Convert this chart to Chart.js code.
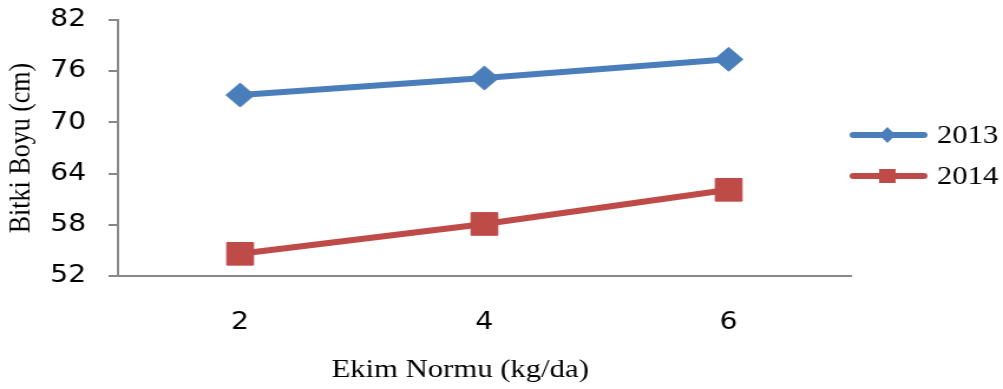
<!DOCTYPE html>
<html>
<head>
<meta charset="utf-8">
<script src="https://cdn.jsdelivr.net/npm/chart.js@4/dist/chart.umd.min.js"></script>
<style>
  html, body { margin: 0; padding: 0; background: #fff; overflow: hidden; }
  #wrap { width: 850px; height: 389px; transform: scaleX(1.18); transform-origin: 0 0; }
</style>
</head>
<body>
<div id="wrap"><canvas id="heightChart" width="850" height="389"></canvas></div>
<script>
const categories = ['2', '4', '6'];
const seriesNames = ['2013', '2014'];
const values2013 = [73.2, 75.2, 77.4];
const values2014 = [54.6, 58.1, 62.1];
const yTicks = [52, 58, 64, 70, 76, 82];

const blue = '#4a7ebb';
const red = '#be4b48';
const axisGrey = '#888888';

// legend and x title drawn by hand (Excel-like placement)
const extras = {
    id: 'extras',
    afterDraw(chart) {
        const ctx = chart.ctx;
        ctx.save();
        // x axis title
        ctx.fillStyle = '#000';
        ctx.font = '26px "Liberation Serif", serif';
        ctx.textAlign = 'center';
        ctx.textBaseline = 'middle';
        ctx.fillText('Ekim Normu (kg/da)', 390, 370);

        // legend
        const items = [
            { label: seriesNames[0], color: blue, style: 'diamond', y: 135 },
            { label: seriesNames[1], color: red, style: 'square', y: 176 }
        ];
        items.forEach(function(it) {
            ctx.strokeStyle = it.color;
            ctx.lineWidth = 6;
            ctx.lineCap = 'round';
            ctx.beginPath();
            ctx.moveTo(723, it.y);
            ctx.lineTo(783, it.y);
            ctx.stroke();
            ctx.fillStyle = it.color;
            ctx.beginPath();
            if (it.style === 'diamond') {
                ctx.moveTo(752 - 7, it.y);
                ctx.lineTo(752, it.y - 8);
                ctx.lineTo(752 + 7, it.y);
                ctx.lineTo(752, it.y + 8);
                ctx.closePath();
            } else {
                ctx.rect(752 - 7, it.y - 7, 14, 14);
            }
            ctx.fill();
            ctx.fillStyle = '#000';
            ctx.textAlign = 'left';
            ctx.font = '26px "Liberation Serif", serif';
            ctx.fillText(it.label, 794, it.y + 1);
        });
        ctx.restore();
    }
};

new Chart(document.getElementById('heightChart'), {
    type: 'line',
    data: {
        labels: categories,
        datasets: [
            {
                label: seriesNames[0],
                data: values2013,
                borderColor: blue,
                backgroundColor: blue,
                borderWidth: 6,
                pointStyle: 'rectRot',
                pointRadius: 12,
                pointBorderWidth: 1,
                tension: 0
            },
            {
                label: seriesNames[1],
                data: values2014,
                borderColor: red,
                backgroundColor: red,
                borderWidth: 6,
                pointStyle: 'rect',
                pointRadius: 16,
                pointBorderWidth: 1,
                tension: 0
            }
        ]
    },
    options: {
        responsive: false,
        animation: false,
        layout: { padding: { left: 0, right: 129, top: 20, bottom: 0 } },
        plugins: {
            legend: { display: false },
            tooltip: { enabled: false }
        },
        scales: {
            x: {
                offset: true,
                grid: { drawOnChartArea: false, drawTicks: false },
                border: { display: true, color: axisGrey, width: 2 },
                ticks: {
                    color: '#000',
                    padding: 32,
                    font: { family: 'DejaVu Sans', size: 24 }
                },
                afterFit: function(s) { s.height = 113; }
            },
            y: {
                min: 52,
                max: 82,
                afterBuildTicks: function(s) { s.ticks = yTicks.map(v => ({ value: v })); },
                grid: { drawOnChartArea: false, drawTicks: true, tickLength: 8, color: axisGrey, lineWidth: 2 },
                border: { display: true, color: axisGrey, width: 2 },
                ticks: {
                    color: '#000',
                    padding: 19,
                    font: { family: 'DejaVu Sans', size: 24 }
                },
                title: {
                    display: true,
                    text: 'Bitki Boyu (cm)',
                    color: '#000',
                    padding: { top: 3, bottom: 0 },
                    font: { family: 'Liberation Serif', size: 26 }
                },
                afterFit: function(s) {
                    s.width = 100;
                    s.paddingTop = 0;
                    s.paddingBottom = 0;
                }
            }
        }
    },
    plugins: [extras]
});
</script>
</body>
</html>
